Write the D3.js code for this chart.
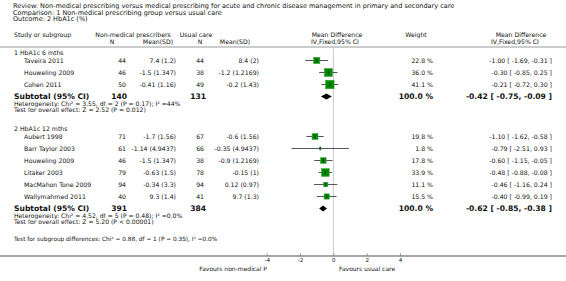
<!DOCTYPE html>
<html>
<head>
<meta charset="utf-8">
<script src="https://cdn.jsdelivr.net/npm/d3@7"></script>
<style>
  body { margin: 0; background: #fff; }
  svg text { font-family: "DejaVu Sans", sans-serif; fill: #111; }
</style>
</head>
<body>
<div class="forest"></div>
<script>
//Width and height
var w = 566;
var h = 281;

//Title lines
var titleLines = [
  "Review:  Non-medical prescribing versus medical prescribing for acute and chronic disease management in primary and secondary care",
  "Comparison:  1 Non-medical prescribing group versus usual care",
  "Outcome:  2 HbA1c (%)"
];

//Subgroups
var groupNames = ["1 HbA1c 6 mths", "2 HbA1c 12 mths"];

//Studies (group index per study)
var studyNames = ["Taveira 2011", "Houweling 2009", "Cohen 2011",
                  "Aubert 1998", "Barr Taylor 2003", "Houweling 2009", "Litaker 2003", "MacMahon Tone 2009", "Wallymahmed 2011"];
var studyGroup = [0, 0, 0, 1, 1, 1, 1, 1, 1];
var nNonMed = [44, 46, 50, 71, 61, 46, 79, 94, 40];
var meanNonMed = ["7.4 (1.2)", "-1.5 (1.347)", "-0.41 (1.16)", "-1.7 (1.56)", "-1.14 (4.9437)", "-1.5 (1.347)", "-0.63 (1.5)", "-0.34 (3.3)", "9.3 (1.4)"];
var nUsual = [44, 38, 49, 67, 66, 38, 78, 94, 41];
var meanUsual = ["8.4 (2)", "-1.2 (1.2169)", "-0.2 (1.43)", "-0.6 (1.56)", "-0.35 (4.9437)", "-0.9 (1.2169)", "-0.15 (1)", "0.12 (0.97)", "9.7 (1.3)"];
var weights = [22.8, 36.0, 41.1, 19.8, 1.8, 17.8, 33.9, 11.1, 15.5];
var md = [-1.00, -0.30, -0.21, -1.10, -0.79, -0.60, -0.48, -0.46, -0.40];
var ciLow = [-1.69, -0.85, -0.72, -1.62, -2.51, -1.15, -0.88, -1.16, -0.99];
var ciHigh = [-0.31, 0.25, 0.30, -0.58, 0.93, -0.05, -0.08, 0.24, 0.19];

//Subtotals
var subN1 = [140, 391];
var subN2 = [131, 384];
var subMd = [-0.42, -0.62];
var subLow = [-0.75, -0.85];
var subHigh = [-0.09, -0.38];
var heterogeneity = ["Heterogeneity: Chi\u00b2 = 3.55, df = 2 (P = 0.17); I\u00b2 =44%",
                     "Heterogeneity: Chi\u00b2 = 4.52, df = 5 (P = 0.48); I\u00b2 =0.0%"];
var overallEffect = ["Test for overall effect: Z = 2.52 (P = 0.012)",
                     "Test for overall effect: Z = 5.20 (P < 0.00001)"];
var subgroupTest = "Test for subgroup differences: Chi\u00b2 = 0.88, df = 1 (P = 0.35), I\u00b2 =0.0%";

//Axis
var tickValues = [-4, -2, 0, 2, 4];
var favoursLeft = "Favours non-medical P";
var favoursRight = "Favours usual care";

//plain hyphen minus, like the original
function fmt(v) { return d3.format(".2f")(v).replace("\u2212", "-"); }
function ciText(m, lo, hi) {
  return fmt(m) + " [ " + fmt(lo) + ", " + fmt(hi) + " ]";
}

//Scales
var x = d3.scaleLinear().domain([-4, 4]).range([266.7, 400]);
var size = d3.scaleSqrt().domain([0, 41.1]).range([0, 8.5]);
//row unit -> y (12 px per row)
var groupTop = [60.5, 136.5];
function rowY(g, i) { return groupTop[g] + 12 * i; }

//Create SVG element
var svg = d3.select(".forest")
            .append("svg")
            .attr("width", w)
            .attr("height", h);

var fs = 6.2;

//Title block
svg.selectAll("text.title")
  .data(titleLines)
  .enter()
  .append("text")
  .attr("x", 13)
  .attr("y", function(d, i) { return 8 + i * 6.6; })
  .style("font-size", "6.5px")
  .text(function(d) { return d; });

//Column headers
function label(t, xx, yy, anchor, size, weight) {
  svg.append("text")
    .attr("x", xx).attr("y", yy)
    .attr("text-anchor", anchor || "start")
    .style("font-size", (size || fs) + "px")
    .style("font-weight", weight || "normal")
    .text(t);
}
label("Study or subgroup", 14, 36.5);
label("Non-medical prescribers", 133, 36.5, "middle");
label("N", 112, 43.5, "middle");
label("Mean(SD)", 158, 43.5, "middle");
label("Usual care", 196, 36.5, "middle");
label("N", 200, 43.5, "middle");
label("Mean(SD)", 235, 43.5, "middle");
label("Mean Difference", 337, 36.5, "middle");
label("IV,Fixed,95% CI", 335, 43.5, "middle");
label("Weight", 416, 36.5, "middle");
label("Mean Difference", 521, 36.5, "middle");
label("IV,Fixed,95% CI", 515, 43.5, "middle");

//Header rule
svg.append("line")
  .attr("x1", 0).attr("x2", w)
  .attr("y1", 47).attr("y2", 47)
  .style("stroke", "#999").style("stroke-width", 1);

//Zero line
svg.append("line")
  .attr("x1", x(0)).attr("x2", x(0))
  .attr("y1", 47.5).attr("y2", 256)
  .style("stroke", "#c8c8c8").style("stroke-width", 1);

//Group rows
var rows = studyNames.map(function(d, i) {
  var g = studyGroup[i];
  var k = studyGroup.slice(0, i).filter(function(v) { return v == g; }).length;
  return { i: i, g: g, y: rowY(g, k) };
});

groupNames.forEach(function(name, g) {
  var nStudies = studyGroup.filter(function(v) { return v == g; }).length;
  var ys = rowY(g, nStudies);
  label(name, 14, groupTop[g] - 5.5);
  label("Subtotal (95% CI)", 14, ys + 2.8, "start", 7.6, "bold");
  label(subN1[g], 127, ys + 2.8, "end", 7.6, "bold");
  label(subN2[g], 206, ys + 2.8, "end", 7.6, "bold");
  label(heterogeneity[g], 14, ys + 9.4, "start", 6.1);
  label(overallEffect[g], 14, ys + 15.4, "start", 6.1);
  label("100.0 %", 433, ys + 2.8, "end", 7.6, "bold");
  label(ciText(subMd[g], subLow[g], subHigh[g]), 552, ys + 2.8, "end", 7.6, "bold");

  //Diamond
  svg.append("path")
    .attr("d", "M" + x(subLow[g]) + "," + ys +
               "L" + x(subMd[g]) + "," + (ys - 3) +
               "L" + x(subHigh[g]) + "," + ys +
               "L" + x(subMd[g]) + "," + (ys + 3) + "Z")
    .style("fill", "#000");
});

//Study text columns
var rowText = svg.selectAll("g.row")
  .data(rows)
  .enter()
  .append("g")
  .attr("class", "row")
  .attr("transform", function(d) { return "translate(0," + (d.y + 2.2) + ")"; });

rowText.append("text").attr("x", 24).text(function(d) { return studyNames[d.i]; });
rowText.append("text").attr("x", 126).attr("text-anchor", "end").text(function(d) { return nNonMed[d.i]; });
rowText.append("text").attr("x", 176).attr("text-anchor", "end").text(function(d) { return meanNonMed[d.i]; });
rowText.append("text").attr("x", 204).attr("text-anchor", "end").text(function(d) { return nUsual[d.i]; });
rowText.append("text").attr("x", 259).attr("text-anchor", "end").text(function(d) { return meanUsual[d.i]; });
rowText.append("text").attr("x", 433).attr("text-anchor", "end").text(function(d) { return d3.format(".1f")(weights[d.i]) + " %"; });
rowText.append("text").attr("x", 552).attr("text-anchor", "end").text(function(d) { return ciText(md[d.i], ciLow[d.i], ciHigh[d.i]); });
rowText.selectAll("text").style("font-size", fs + "px");

//CI lines
svg.selectAll("line.ci")
  .data(rows)
  .enter()
  .append("line")
  .attr("x1", function(d) { return x(ciLow[d.i]); })
  .attr("x2", function(d) { return x(ciHigh[d.i]); })
  .attr("y1", function(d) { return d.y; })
  .attr("y2", function(d) { return d.y; })
  .style("stroke", "#555").style("stroke-width", 1);

//Weight squares
svg.selectAll("rect.sq")
  .data(rows)
  .enter()
  .append("rect")
  .attr("x", function(d) { return x(md[d.i]) - size(weights[d.i]) / 2; })
  .attr("y", function(d) { return d.y - size(weights[d.i]) / 2; })
  .attr("width", function(d) { return size(weights[d.i]); })
  .attr("height", function(d) { return size(weights[d.i]); })
  .style("fill", "#008a00")
  .style("stroke", "#3fa83f").style("stroke-width", 0.6);

//Point estimate ticks
svg.selectAll("line.pt")
  .data(rows)
  .enter()
  .append("line")
  .attr("x1", function(d) { return x(md[d.i]); })
  .attr("x2", function(d) { return x(md[d.i]); })
  .attr("y1", function(d) { return d.y - 2; })
  .attr("y2", function(d) { return d.y + 2; })
  .style("stroke", "#222").style("stroke-width", 0.8);

//Subgroup differences
label(subgroupTest, 14, 241, "start", 5.8);

//Axis
svg.append("line")
  .attr("x1", 0).attr("x2", w)
  .attr("y1", 256).attr("y2", 256)
  .style("stroke", "#8a8a8a").style("stroke-width", 1.3);

var axis = d3.axisBottom(x).tickValues(tickValues).tickSize(0).tickPadding(2)
  .tickFormat(function(d) { return String(d); });
var axisG = svg.append("g").attr("transform", "translate(0,256)").call(axis);
axisG.select(".domain").remove();
axisG.selectAll("text").style("font-size", "5.6px").style("font-family", "DejaVu Sans, sans-serif").attr("fill", "#111");
axisG.selectAll(".tick").append("line").attr("y1", -2.5).attr("y2", 0).attr("stroke", "#8a8a8a");

label(favoursLeft, 267, 271.3, "end", 6);
label(favoursRight, 339, 271.3, "start", 6);
</script>
</body>
</html>
